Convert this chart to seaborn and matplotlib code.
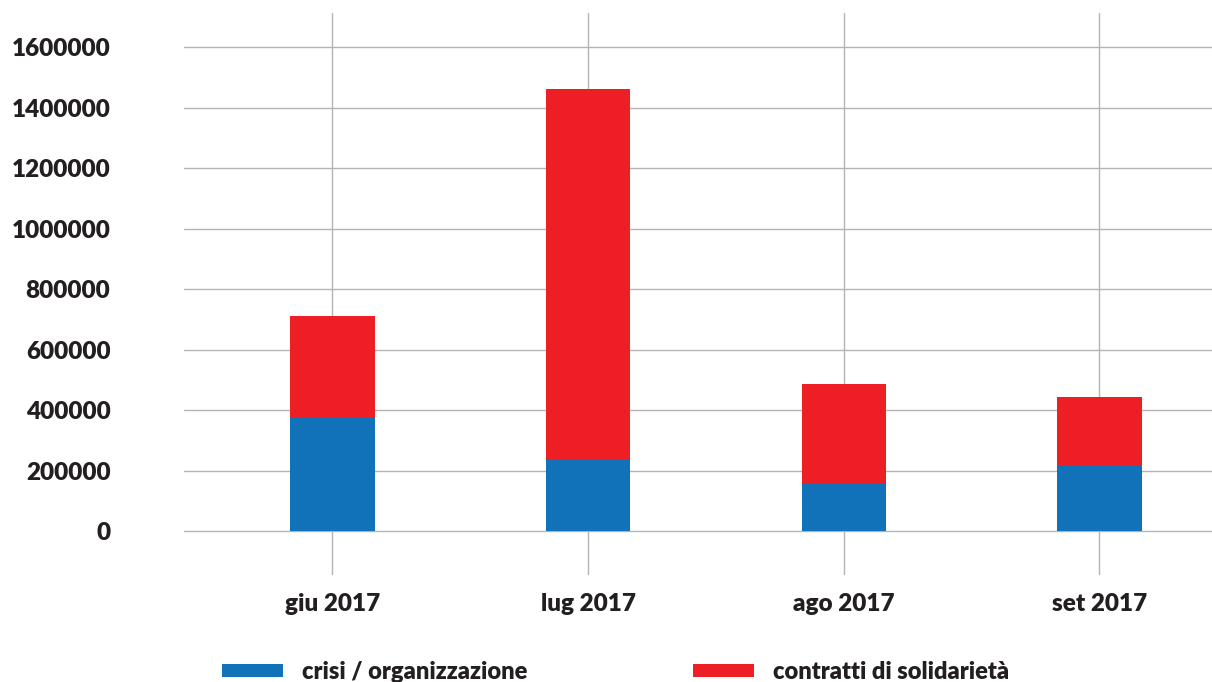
import matplotlib
matplotlib.use("Agg")
import matplotlib.pyplot as plt
import seaborn as sns
import pandas as pd

# dati
mesi = ["giu 2017", "lug 2017", "ago 2017", "set 2017"]
crisi = [380000, 238000, 157000, 217000]
solidarieta = [333000, 1225000, 329000, 226000]
yticks = [0, 200000, 400000, 600000, 800000, 1000000, 1200000, 1400000, 1600000]

blu = "#1172ba"
rosso = "#ed1f24"
testo = "#231f20"
peso = 800

sns.set_theme(style="white")
plt.rcParams["font.family"] = ["Lato", "DejaVu Sans"]

df = pd.DataFrame({"mese": mesi, "crisi": crisi, "solidarieta": solidarieta})
df["totale"] = df["crisi"] + df["solidarieta"]

fig = plt.figure(figsize=(12.12, 6.82), dpi=100)
ax = fig.add_axes([184 / 1212, 107 / 682, 1028 / 1212, 562 / 682])

sns.barplot(data=df, x="mese", y="totale", color=rosso, width=0.33,
            saturation=1, ax=ax, label="contratti di solidarietà",
            linewidth=0, zorder=3)
sns.barplot(data=df, x="mese", y="crisi", color=blu, width=0.33,
            saturation=1, ax=ax, label="crisi / organizzazione",
            linewidth=0, zorder=3)

ax.set_xlim(-0.58, 3.44)
ax.set_ylim(-143800, 1714000)
ax.set_yticks(yticks)
ax.set_yticklabels([str(v) for v in yticks])
ax.set_xlabel("")
ax.set_ylabel("")
ax.grid(True, color="#b3b3b3", linewidth=1.0, zorder=0)
ax.set_axisbelow(True)
for s in ax.spines.values():
    s.set_visible(False)
ax.tick_params(axis="both", length=0, labelsize=17.5, labelcolor=testo)
ax.tick_params(axis="y", pad=53)
ax.tick_params(axis="x", pad=13)
for lab in ax.get_xticklabels() + ax.get_yticklabels():
    lab.set_fontweight(peso)

# legenda in basso, due voci separate
handles, labels = ax.get_legend_handles_labels()
h = dict(zip(labels, handles))
for nome, xpos in [("crisi / organizzazione", 222), ("contratti di solidarietà", 693)]:
    fig.legend([h[nome]], [nome], loc="center left",
               bbox_to_anchor=(xpos / 1212, 1 - 672 / 682),
               frameon=False, borderpad=0, borderaxespad=0,
               handlelength=2.6, handleheight=0.5, handletextpad=0.8,
               prop={"weight": peso, "size": 17}, labelcolor=testo)
if ax.get_legend():
    ax.get_legend().remove()

fig.savefig("out.png", dpi=100)
